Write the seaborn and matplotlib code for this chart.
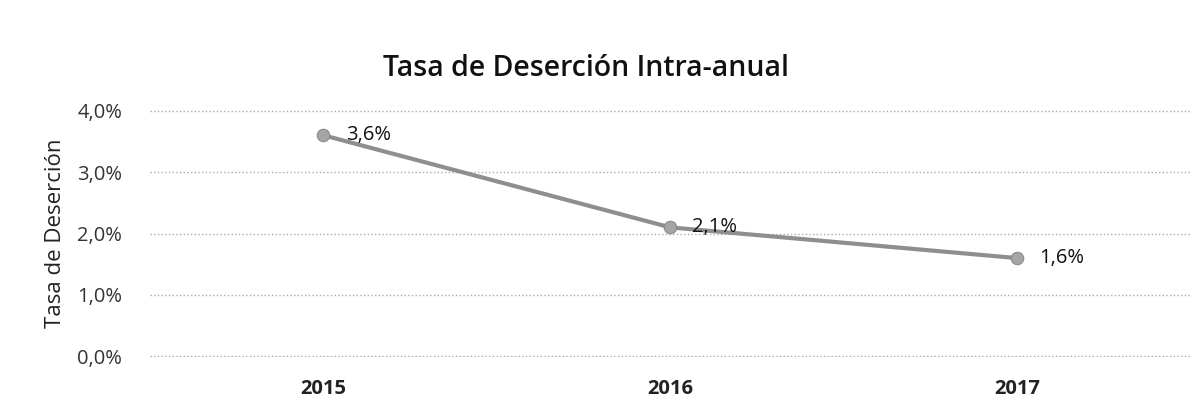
import pandas as pd
import matplotlib
matplotlib.use("Agg")
import matplotlib.pyplot as plt
import seaborn as sns

years = ["2015", "2016", "2017"]
tasa = [3.6, 2.1, 1.6]
etiquetas = ["3,6%", "2,1%", "1,6%"]
y_ticks = [0, 1, 2, 3, 4]
y_labels = ["0,0%", "1,0%", "2,0%", "3,0%", "4,0%"]

sns.set_style("white")
plt.rcParams["font.family"] = ["Open Sans", "DejaVu Sans"]

df = pd.DataFrame({"anio": years, "tasa": tasa})

fig = plt.figure(figsize=(12, 4.17), dpi=100)
ax = fig.add_axes([0.125, 0.144, 0.867, 0.592])

sns.lineplot(data=df, x="anio", y="tasa", ax=ax, color="#8e8e8e", linewidth=3,
             marker="o", markersize=9, markerfacecolor="#a5a5a5",
             markeredgecolor="#888888", sort=False)

# etiquetas de datos a la derecha de cada punto
for i, (v, txt) in enumerate(zip(tasa, etiquetas)):
    ax.annotate(txt, (i, v), xytext=(16, 0), textcoords="offset points",
                va="center", ha="left", fontsize=14.5, color="#111111")

ax.set_xlim(-0.5, 2.5)
ax.set_ylim(-0.01, 4.01)
ax.set_yticks(y_ticks)
ax.set_yticklabels(y_labels, fontsize=14.5, color="#333333")
ax.set_xticks(range(len(years)))
ax.set_xticklabels(years, fontsize=14.5, fontweight="bold", color="#222222")
ax.tick_params(axis="y", length=0, pad=20)
ax.tick_params(axis="x", length=0, pad=16)
ax.yaxis.grid(True, linestyle=":", color="#aaaaaa", linewidth=1)
ax.set_axisbelow(True)
for s in ax.spines.values():
    s.set_visible(False)

ax.set_xlabel("")
ax.set_ylabel("Tasa de Deserción", fontsize=16, color="#222222", labelpad=8)
fig.suptitle("Tasa de Deserción Intra-anual", fontsize=20.5, fontweight="semibold",
             color="#111111", x=0.488, y=0.87)

fig.savefig("out.png", dpi=100)
